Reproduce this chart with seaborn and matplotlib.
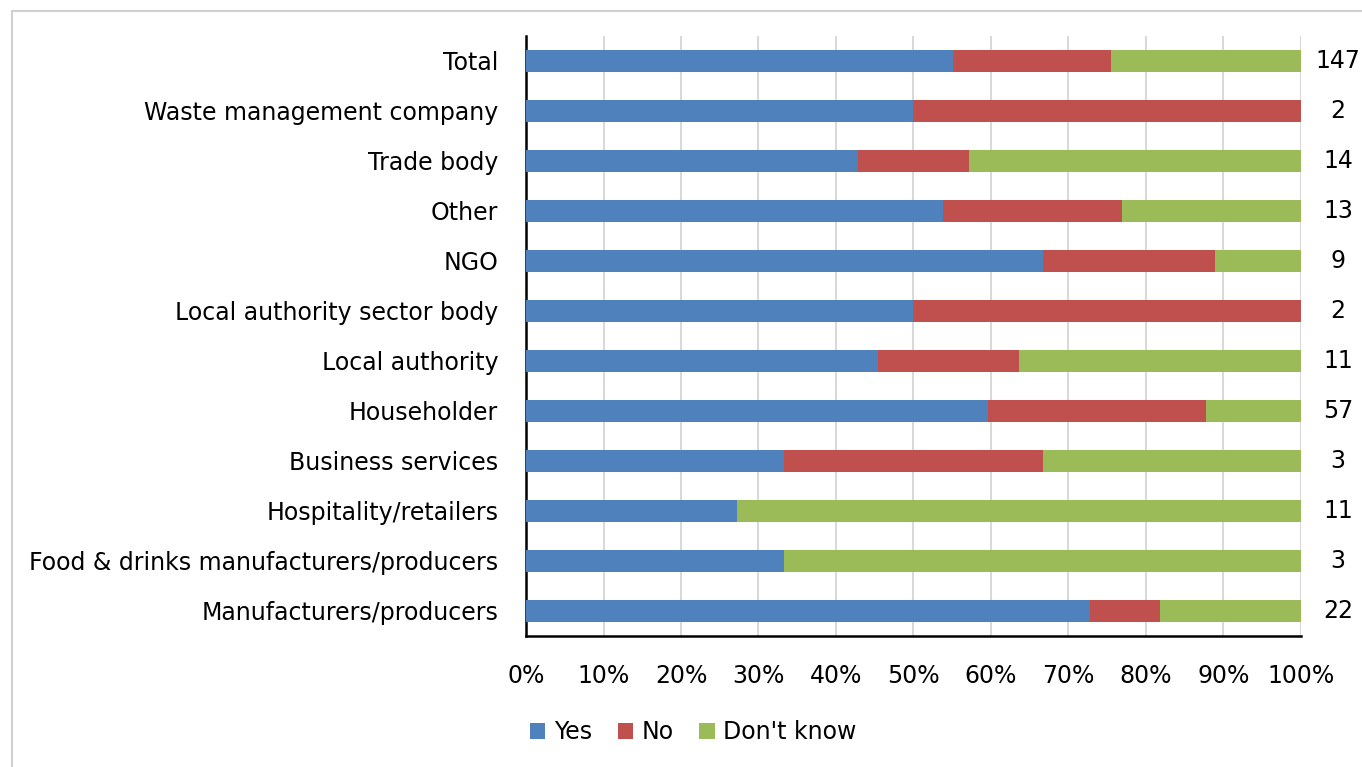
import matplotlib
matplotlib.use("Agg")
import matplotlib.pyplot as plt
from matplotlib.lines import Line2D
from matplotlib.patches import Patch
from matplotlib.transforms import blended_transform_factory
import pandas as pd
import seaborn as sns

# Respondent groups, top to bottom
categories = [
    "Total",
    "Waste management company",
    "Trade body",
    "Other",
    "NGO",
    "Local authority sector body",
    "Local authority",
    "Householder",
    "Business services",
    "Hospitality/retailers",
    "Food & drinks manufacturers/producers",
    "Manufacturers/producers",
]
# Number of responses per answer
yes_counts = [81, 1, 6, 7, 6, 1, 5, 34, 1, 3, 1, 16]
no_counts = [30, 1, 2, 3, 2, 1, 2, 16, 1, 0, 0, 2]
dk_counts = [36, 0, 6, 3, 1, 0, 4, 7, 1, 8, 2, 4]

series_names = ["Yes", "No", "Don't know"]
colors = ["#4F81BD", "#C0504D", "#9BBB59"]

df = pd.DataFrame({"group": categories, "Yes": yes_counts,
                   "No": no_counts, "Don't know": dk_counts})
df["n"] = df[series_names].sum(axis=1)
for s in series_names:
    df[s + "_pct"] = df[s] / df["n"] * 100
# cumulative right edges for stacking
df["c_yes"] = df["Yes_pct"]
df["c_no"] = df["c_yes"] + df["No_pct"]
df["c_dk"] = df["c_no"] + df["Don't know_pct"]

sns.set_theme(style="white")
plt.rcParams["font.family"] = ["DejaVu Sans"]
plt.rcParams["text.color"] = "black"
FS = 17

fig = plt.figure(figsize=(13.62, 7.67), dpi=100)
ax = fig.add_axes([0.3862, 0.1708, 0.5690, 0.7823])

# draw the widest (cumulative) bar first, then overlay the shorter ones
for col, color in zip(["c_dk", "c_no", "c_yes"], colors[::-1]):
    sns.barplot(data=df, x=col, y="group", orient="h", color=color,
                width=0.44, saturation=1, ax=ax, order=categories,
                linewidth=0, zorder=3)

ax.set_xlim(0, 100)
ax.set_ylim(len(categories) - 0.5, -0.5)
ax.set_xticks(range(0, 101, 10))
ax.set_xticklabels([f"{v}%" for v in range(0, 101, 10)])
ax.set_xlabel("")
ax.set_ylabel("")
ax.tick_params(axis="x", length=0, pad=20, labelsize=FS, colors="black")
ax.tick_params(axis="y", length=0, pad=20, labelsize=FS, colors="black")
ax.grid(axis="x", color="#D9D9D9", linewidth=1.5, zorder=0)
ax.set_axisbelow(True)
for side in ["top", "right"]:
    ax.spines[side].set_visible(False)
for side in ["left", "bottom"]:
    ax.spines[side].set_color("black")
    ax.spines[side].set_linewidth(1.8)

# sample sizes at the right of each bar
tr = blended_transform_factory(ax.transAxes, ax.transData)
for i, n in enumerate(df["n"]):
    ax.text(1.048, i, str(n), transform=tr, ha="center", va="center",
            fontsize=FS, color="black")

handles = [Patch(facecolor=c, edgecolor="none") for c in colors]
fig.legend(handles, series_names, loc="center", bbox_to_anchor=(0.509, 0.0456),
           ncol=3, frameon=False, fontsize=FS, handlelength=0.65,
           handleheight=0.65, handletextpad=0.35, columnspacing=1.1,
           labelcolor="black")

# light frame around the chart
fig.add_artist(Line2D([12 / 1362, 12 / 1362], [0, 1 - 11 / 767],
                      transform=fig.transFigure, color="#D0D0D0", linewidth=1.5))
fig.add_artist(Line2D([12 / 1362, 1], [1 - 11 / 767, 1 - 11 / 767],
                      transform=fig.transFigure, color="#D0D0D0", linewidth=1.5))

fig.savefig("out.png", dpi=100, facecolor="white")
